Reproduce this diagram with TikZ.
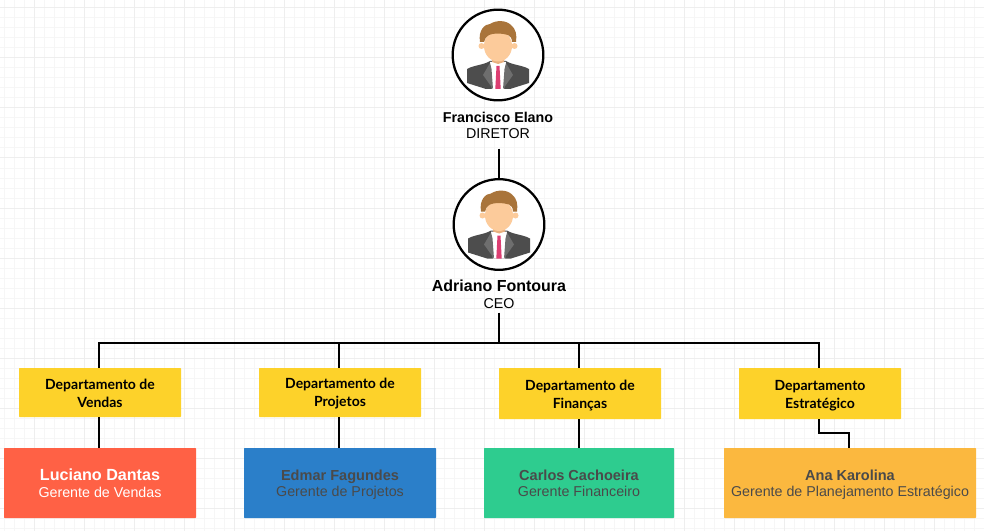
\documentclass[tikz,border=0pt]{standalone}
\usepackage{fontspec}
\setmainfont{Liberation Sans}
\newfontfamily\deptfont{Lato}
\definecolor{gridminor}{HTML}{F6F6F6}
\definecolor{gridmajor}{HTML}{EEEEEE}
\definecolor{deptyellow}{HTML}{FDD22A}
\definecolor{salesred}{HTML}{FF6145}
\definecolor{projectblue}{HTML}{2B7FC9}
\definecolor{financegreen}{HTML}{2ECC8F}
\definecolor{planorange}{HTML}{FBB83F}
\definecolor{softtext}{HTML}{4A4A4A}
\definecolor{hairbrown}{HTML}{A9743A}
\definecolor{skintone}{HTML}{FCCB9B}
\definecolor{necktone}{HTML}{E8B07F}
\definecolor{suitgrey}{HTML}{4D4D4D}
\definecolor{lapelgrey}{HTML}{6E6E6E}
\definecolor{tiepink}{HTML}{DD3E72}
\newcommand{\pushdown}[1]{\rule{0pt}{#1}}
\tikzset{
    personcircle/.style={circle,draw=black,line width=1.7pt,fill=white,inner sep=0,minimum size=68pt},
    persontext/.style={anchor=north,align=center,inner sep=0,font=\fontsize{10.7pt}{12pt}\selectfont},
    deptbox/.style={fill=deptyellow,rounded corners=0.5pt,minimum width=121.5pt,align=center,inner sep=0,
        font=\deptfont\bfseries\fontsize{10.5pt}{13.2pt}\selectfont},
    managerbox/.style={rounded corners=0.5pt,minimum height=52.5pt,align=center,inner sep=0,text=softtext,
        font=\fontsize{10.7pt}{12.4pt}\selectfont},
    wire/.style={draw=black,line width=1.6pt},
    avatar/.pic={
        \fill[suitgrey] (-31,14) .. controls (-24,10) and (-14,10) .. (-8,6) -- (8,6)
            .. controls (14,10) and (24,10) .. (31,14) -- (31,28) -- (12,34) -- (-12,34) -- (-31,28) -- cycle;
        \fill[white] (-8,7) -- (8,7) -- (6,34) -- (-6,34) -- cycle;
        \fill[lapelgrey] (-8,8) -- (-15,20) -- (-10,27) -- (-5,34) -- (-6.5,14) -- cycle;
        \fill[lapelgrey] (8,8) -- (15,20) -- (10,27) -- (5,34) -- (6.5,14) -- cycle;
        \fill[tiepink] (-1.5,11) -- (1.5,11) -- (2.7,34) -- (-2.7,34) -- cycle;
        \fill[necktone] (-6,2) -- (6,2) -- (6,7) -- (0,9) -- (-6,7) -- cycle;
        \fill[skintone] (-16.5,-9) circle (3);
        \fill[skintone] (16.5,-9) circle (3);
        \fill[skintone] (0,-9) ellipse (14 and 15.5);
        \fill[hairbrown] (-18,-13) .. controls (-20,-25) and (-13,-31) .. (-8,-31)
            .. controls (-2,-35) and (8,-35) .. (13,-30)
            .. controls (18,-26) and (19,-20) .. (18,-13) -- (14,-13)
            .. controls (14,-17) and (12,-19) .. (10,-20)
            .. controls (4,-22) and (-5,-22) .. (-9,-20)
            .. controls (-12,-18) and (-13.5,-16) .. (-14,-13) -- cycle;
    }
}
\begin{document}
\begin{tikzpicture}[x=0.75pt,y=-0.75pt]
    \pgfmathsetmacro{\wirenudge}{0.75}
    \useasboundingbox (0,0) rectangle (984,531);
    \fill[white] (0,0) rectangle (984,531);
    % background grid
    \foreach \gx in {4,14,...,984} {\draw[gridminor,line width=0.75pt] (\gx,0) -- (\gx,531);}
    \foreach \gy in {8,18,...,531} {\draw[gridminor,line width=0.75pt] (0,\gy) -- (984,\gy);}
    \foreach \gx in {34,84,...,984} {\draw[gridmajor,line width=0.75pt] (\gx,0) -- (\gx,531);}
    \foreach \gy in {8,58,...,531} {\draw[gridmajor,line width=0.75pt] (0,\gy) -- (984,\gy);}

    \node[personcircle] (elano) at (498,55) {};
    \pic at (498,55) {avatar};
    \node[persontext,minimum height=34.5pt] (elanotext) at (498,102) {{\bfseries Francisco Elano}\\DIRETOR};
    \node[personcircle] (fontoura) at (499,224.5) {};
    \pic at (499,224.5) {avatar};
    \node[persontext,minimum height=27pt] (fontouratext) at (499,276) {{\bfseries\fontsize{12pt}{13pt}\selectfont Adriano Fontoura}\\[0.75pt]CEO};
    \coordinate (bus) at (499,343);
    \coordinate (elbow) at (819,433);

    % departments
    \node[deptbox,minimum height=36.75pt] (vendas) at (100,392.5) {\pushdown{9.3pt}Departamento de\\Vendas};
    \node[deptbox,minimum height=36.75pt] (projetos) at (340,392.5) {\pushdown{9.3pt}Departamento de\\Projetos};
    \node[deptbox,minimum height=38.25pt] (financas) at (580,393.5) {\pushdown{10.8pt}Departamento de\\Finanças};
    \node[deptbox,minimum height=38.25pt] (estrategico) at (820,393.5) {\pushdown{10.8pt}Departamento\\Estratégico};

    % managers
    \node[managerbox,fill=salesred,text=white,minimum width=144pt] (luciano) at (100,483) {{\bfseries\fontsize{12.1pt}{13pt}\selectfont Luciano Dantas}\\Gerente de Vendas};
    \node[managerbox,fill=projectblue,minimum width=144pt] (edmar) at (340,483) {\pushdown{10pt}{\bfseries\fontsize{10.9pt}{12pt}\selectfont Edmar Fagundes}\\[-0.4pt]Gerente de Projetos};
    \node[managerbox,fill=financegreen,minimum width=142.5pt] (carlos) at (579,483) {\pushdown{10pt}{\bfseries\fontsize{10.9pt}{12pt}\selectfont Carlos Cachoeira}\\[-0.4pt]Gerente Financeiro\rule[-2.3pt]{0pt}{2.3pt}};
    \node[managerbox,fill=planorange,minimum width=189pt] (ana) at (850,483) {\pushdown{10pt}{\bfseries\fontsize{10.9pt}{12pt}\selectfont Ana Karolina}\\[-0.4pt]Gerente de Planejamento Estratégico};

    \draw[wire] (fontoura.north |- elanotext.south) -- (fontoura);
    \draw[wire] (fontouratext.south) -- (bus);
    \foreach \dept in {vendas,projetos,financas,estrategico} {\draw[wire] (bus) -| ([xshift=-\wirenudge pt]\dept.north);}
    \foreach \dept/\boss in {vendas/luciano,projetos/edmar} {\draw[wire] ([xshift=-\wirenudge pt]\dept.south) -- ([xshift=-\wirenudge pt]\boss.north -| \dept.south);}
    \draw[wire] ([xshift=-\wirenudge pt]financas.south) -- (carlos.north);
    \draw[wire] ([xshift=-\wirenudge pt]estrategico.south) -- (elbow) -| ([xshift=-\wirenudge pt]ana.north);
\end{tikzpicture}
\end{document}
